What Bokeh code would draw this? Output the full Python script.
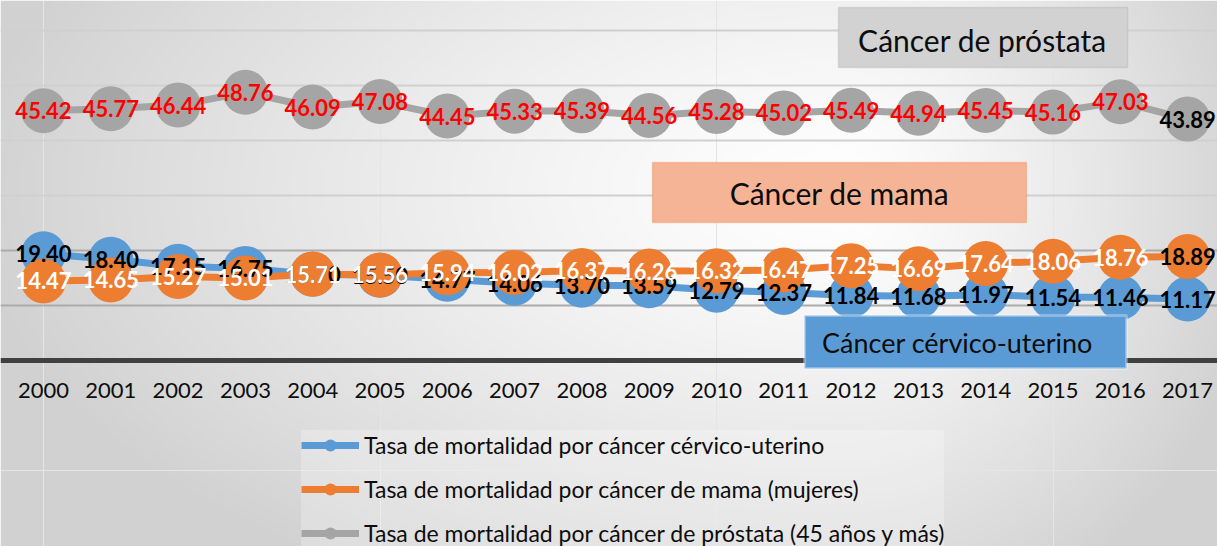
import numpy as np
from bokeh.plotting import figure
from bokeh.models import (ColumnDataSource, Range1d, Grid, FixedTicker, Span,
                          BoxAnnotation, Label, Legend, LegendItem)
from bokeh.core.properties import value
from bokeh.embed import file_html
from bokeh.resources import INLINE

# ---------------- data ----------------
years = [str(y) for y in range(2000, 2018)]
cervico = [19.40, 18.40, 17.15, 16.75, 15.70, 15.50, 14.77, 14.06, 13.70,
           13.59, 12.79, 12.37, 11.84, 11.68, 11.97, 11.54, 11.46, 11.17]
mama = [14.47, 14.65, 15.27, 15.01, 15.71, 15.56, 15.94, 16.02, 16.37,
        16.26, 16.32, 16.47, 17.25, 16.69, 17.64, 18.06, 18.76, 18.89]
prostata = [45.42, 45.77, 46.44, 48.76, 46.09, 47.08, 44.45, 45.33, 45.39,
            44.56, 45.28, 45.02, 45.49, 44.94, 45.45, 45.16, 47.03, 43.89]
y_ticks_low = [10, 20]
y_ticks_high = [30, 40, 50, 60]
series_names = ["Tasa de mortalidad por cáncer cérvico-uterino",
                "Tasa de mortalidad por cáncer de mama (mujeres)",
                "Tasa de mortalidad por cáncer de próstata (45 años y más)"]
box_titles = ["Cáncer cérvico-uterino", "Cáncer de mama", "Cáncer de próstata"]

# ---------------- styles / layout ----------------
BLUE, ORANGE, GRAY = "#5b9bd5", "#ed7d31", "#a5a5a5"
FONT = "Lato"
W, H = 1217, 546
FIRST, STEP = 43.0, 67.3      # px of first category, px per category
ZERO, PPU = 360.0, 5.5        # px of value 0, px per unit

X0, X1 = -FIRST / STEP, (W - FIRST) / STEP
Y0, Y1 = (ZERO - H) / PPU, ZERO / PPU


def fx(px):
    return X0 + px / W * (X1 - X0)


def fy(py):
    return Y1 - py / H * (Y1 - Y0)


p = figure(width=W, height=H, x_range=Range1d(X0, X1), y_range=Range1d(Y0, Y1),
           output_backend="svg", toolbar_location=None,
           x_axis_location=None, y_axis_location=None, min_border=0,
           outline_line_color=None, background_fill_color="white",
           border_fill_color="white")

# background gradient (radial-ish, white near upper centre, grey at edges)
GW, GH = 609, 273
gx = (np.arange(GW) + 0.5) * W / GW
gy = (np.arange(GH) + 0.5) * H / GH
PX, PY = np.meshgrid(gx, gy)
cx, cy = 840.0, 190.0
dx = np.where(PX < cx, (PX - cx) / 880.0, (PX - cx) / 430.0)
dy = (PY - cy) / 460.0
t = np.clip(np.sqrt(dx ** 2 + dy ** 2), 0, 1)
g = (255 - 46 * t ** 1.3).astype(np.uint8)[::-1, :]
img = np.zeros((GH, GW), dtype=np.uint32)
view = img.view(dtype=np.uint8).reshape((GH, GW, 4))
view[:, :, 0] = g
view[:, :, 1] = g
view[:, :, 2] = g
view[:, :, 3] = 255
p.image_rgba(image=[img], x=X0, y=Y0, dw=X1 - X0, dh=Y1 - Y0, level="image")

# gridlines and category axis line
p.add_layout(Grid(dimension=1, ticker=FixedTicker(ticks=y_ticks_high),
                  grid_line_color="#d0d0d0", grid_line_width=2))
p.add_layout(Grid(dimension=1, ticker=FixedTicker(ticks=y_ticks_low),
                  grid_line_color="#ababab", grid_line_width=2))
p.add_layout(Span(location=0, dimension="width", line_color="#404040",
                  line_width=5, level="underlay"))

idx = list(range(len(years)))
src = ColumnDataSource(dict(x=idx, cerv=cervico, mama=mama, pros=prostata,
                            cerv_t=["%.2f" % v for v in cervico],
                            mama_t=["%.2f" % v for v in mama],
                            pros_t=["%.2f" % v for v in prostata]))

items = []
for col, color, name in [("cerv", BLUE, series_names[0]),
                         ("mama", ORANGE, series_names[1]),
                         ("pros", GRAY, series_names[2])]:
    lr = p.line("x", col, source=src, line_color=color, line_width=7)
    sr = p.scatter("x", col, source=src, marker="circle", size=45,
                   fill_color=color, line_color=None)
    items.append(LegendItem(label=name, renderers=[lr, sr]))

# data labels
mama_colors = ["white"] * (len(mama) - 1) + ["black"]
pros_colors = ["#ff0000"] * (len(prostata) - 1) + ["black"]
src.data["mama_c"] = mama_colors
src.data["pros_c"] = pros_colors
common = dict(text_align="center", text_baseline="middle",
              text_font=value(FONT), text_font_style="bold",
              text_font_size="22px")
p.text("x", "cerv", text="cerv_t", source=src, text_color="black", **common)
p.text("x", "mama", text="mama_t", source=src, text_color="mama_c", **common)
p.text("x", "pros", text="pros_t", source=src, text_color="pros_c", **common)

# category labels
p.text(x=idx, y=[fy(390)] * len(years), text=years, text_align="center",
       text_baseline="middle", text_font=value(FONT), text_font_size="22px",
       text_color="#0d0d0d")

# series title boxes
p.add_layout(BoxAnnotation(left=fx(838), right=fx(1127), top=fy(7), bottom=fy(67),
                           fill_color="#d2d2d2", fill_alpha=1,
                           line_color="#a6a6a6", line_width=1.5))
p.add_layout(Label(x=fx(982), y=fy(39), text=box_titles[2], text_align="center",
                   text_baseline="middle", text_font=FONT,
                   text_font_size="30px", text_color="#0d0d0d"))
p.add_layout(BoxAnnotation(left=fx(652), right=fx(1026), top=fy(162), bottom=fy(222),
                           fill_color="#f6b497", fill_alpha=1,
                           line_color=ORANGE, line_width=1.5))
p.add_layout(Label(x=fx(839), y=fy(192), text=box_titles[1], text_align="center",
                   text_baseline="middle", text_font=FONT,
                   text_font_size="30px", text_color="#0d0d0d"))
p.add_layout(BoxAnnotation(left=fx(804), right=fx(1126), top=fy(315), bottom=fy(368),
                           fill_color=BLUE, fill_alpha=1,
                           line_color="white", line_width=3))
p.add_layout(Label(x=fx(957), y=fy(342), text=box_titles[0], text_align="center",
                   text_baseline="middle", text_font=FONT,
                   text_font_size="27px", text_color="#0d0d0d"))

legend = Legend(items=items, location=(301, -2), orientation="vertical",
                glyph_width=58, glyph_height=30, label_height=30, spacing=14,
                padding=0, margin=0, label_standoff=5,
                label_text_font=FONT, label_text_font_size="23px",
                label_text_color="#0d0d0d",
                background_fill_color="white", background_fill_alpha=0.25,
                border_line_color=None)
p.add_layout(legend)

open("out.html", "w").write(file_html(p, INLINE))
